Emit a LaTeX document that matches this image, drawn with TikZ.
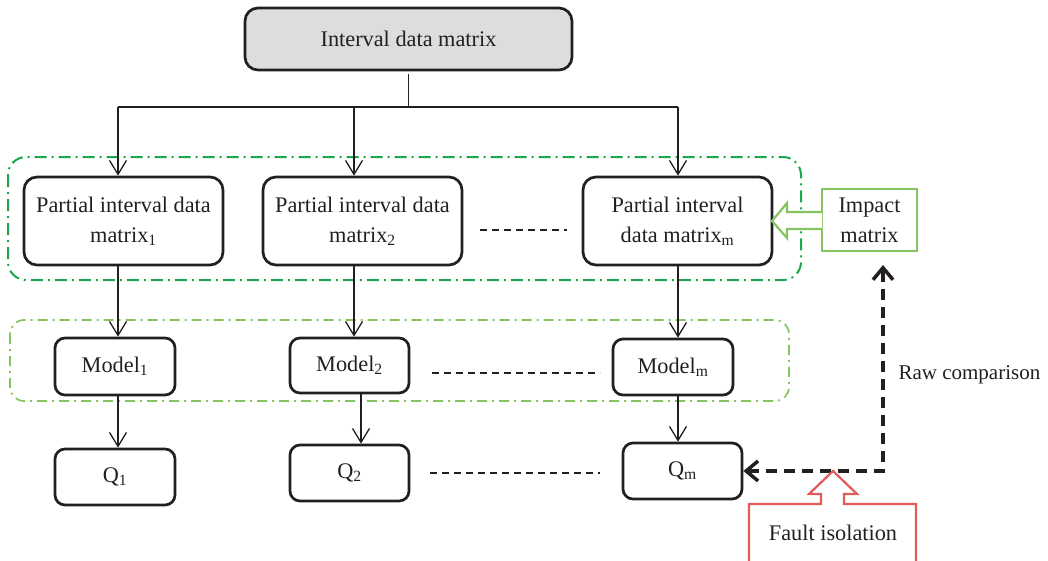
\documentclass[tikz,border=0pt]{standalone}
\usepackage{fontspec}
\setmainfont{Liberation Serif}
\usetikzlibrary{arrows.meta}
\definecolor{ink}{HTML}{231F20}
\definecolor{boxgray}{HTML}{DCDDDF}
\definecolor{dkgreen}{HTML}{1BA84B}
\definecolor{ltgreen}{HTML}{86C461}
\definecolor{fred}{HTML}{E05A5A}
\begin{document}
\begin{tikzpicture}[x=1pt,y=-1pt,
  txt/.style={font=\fontsize{22.3}{30}\selectfont, text=ink},
  box/.style={txt, draw=ink, line width=2.7pt, rounded corners=13pt, align=center, inner sep=0pt},
  smallbox/.style={box, rounded corners=10pt},
  conn/.style={draw=ink, line width=1.3pt},
  arr/.style={conn, -{Straight Barb[length=14pt,width=17pt]}},
  ellip/.style={draw=ink, line width=2.4pt, dash pattern=on 7pt off 5pt},
  bigdash/.style={draw=ink, line width=3.5pt, dash pattern=on 11pt off 7pt,
    {Straight Barb[length=12pt,width=20pt]}-{Straight Barb[length=12pt,width=20pt]}},
  grpA/.style={draw=dkgreen, line width=2pt, rounded corners=18pt, dash pattern=on 12pt off 5pt on 2pt off 5pt},
  grpB/.style={draw=ltgreen, line width=1.7pt, rounded corners=14pt, dash pattern=on 10pt off 5pt on 2pt off 5pt}
]
\useasboundingbox (0,0) rectangle (1048,560);
\clip (0,0) rectangle (1048,560);

% group frames
\draw[grpA] (8,157) rectangle (801,280);
\draw[grpB] (10,320) rectangle (789,401);

% top box
\node[box, fill=boxgray, minimum width=327pt, minimum height=62pt] (top) at (408.5,39) {Interval data matrix};

% partial boxes
\node[box, minimum width=199pt, minimum height=88pt] (P1) at (123.5,221) {Partial interval data\\matrix\textsubscript{1}};
\node[box, minimum width=199pt, minimum height=88pt] (P2) at (362.5,221) {Partial interval data\\matrix\textsubscript{2}};
\node[box, minimum width=189pt, minimum height=88pt] (Pm) at (677.5,221) {Partial interval\\data matrix\textsubscript{m}};

% models
\node[smallbox, minimum width=120pt, minimum height=57pt] (M1) at (115,366.5) {Model\textsubscript{1}};
\node[smallbox, minimum width=119pt, minimum height=55pt] (M2) at (349.5,365.5) {Model\textsubscript{2}};
\node[smallbox, minimum width=120pt, minimum height=56pt] (Mm) at (673,367) {Model\textsubscript{m}};

% Q boxes
\node[smallbox, minimum width=120pt, minimum height=56pt] (Q1) at (115,477) {Q\textsubscript{1}};
\node[smallbox, minimum width=119pt, minimum height=56pt] (Q2) at (349.5,473) {Q\textsubscript{2}};
\node[smallbox, minimum width=119pt, minimum height=56pt] (Qm) at (682.5,471) {Q\textsubscript{m}};

% distribution tree
\coordinate (tb) at (408.5,74);
\coordinate (hl) at (118,107);
\coordinate (hm) at (354,107);
\coordinate (hr) at (678,107);
\coordinate (c2) at (361,0);
\draw[conn] (tb) -- (tb |- hl);
\draw[conn] (hl) -- (hr);
\draw[arr] (hl) -- (hl |- P1.north);
\draw[arr] (hm) -- (hm |- P2.north);
\draw[arr] (hr) -- (hr |- Pm.north);

\draw[arr] (hl |- P1.south) -- (hl |- M1.north);
\draw[arr] (hm |- P2.south) -- (hm |- M2.north);
\draw[arr] (hr |- Pm.south) -- (hr |- Mm.north);

\draw[arr] (hl |- M1.south) -- (hl |- Q1.north);
\draw[arr] (c2 |- M2.south) -- (c2 |- Q2.north);
\draw[arr] (hr |- Mm.south) -- (hr |- Qm.north);

% ellipsis dashes
\coordinate (e1a) at (480,230); \coordinate (e1b) at (567,230);
\coordinate (e2a) at (432,373); \coordinate (e2b) at (600,373);
\coordinate (e3a) at (430,473); \coordinate (e3b) at (600,473);
\draw[ellip] (e1a) -- (e1b);
\draw[ellip] (e2a) -- (e2b);
\draw[ellip] (e3a) -- (e3b);

% impact matrix
\node[txt, draw=ltgreen, line width=2.2pt, align=center, minimum width=95pt, minimum height=62pt, inner sep=0pt] (IM) at (869.5,220) {Impact\\matrix};
\draw[ltgreen, line width=2.2pt, fill=white, line join=miter]
  (822,212) -- (787,212) -- (787,203) -- (772,221) -- (787,238) -- (787,229) -- (822,229);

% raw comparison
\coordinate (up) at (883,265);
\coordinate (rc) at (Qm.east -| up);
\draw[bigdash] (Qm.east) -- (rc) -- (up);
\node[txt, font=\fontsize{21}{28}\selectfont, anchor=west] (RC) at (895,375) {Raw comparison};

% fault isolation
\draw[fred, line width=2.2pt, fill=white, line join=miter]
  (749,575) -- (749,504) -- (821,504) -- (821,494) -- (809,494) -- (833,471)
  -- (857,494) -- (844,494) -- (844,504) -- (916,504) -- (916,575);
\node[txt] (FI) at (833,533) {Fault isolation};
\end{tikzpicture}
\end{document}
